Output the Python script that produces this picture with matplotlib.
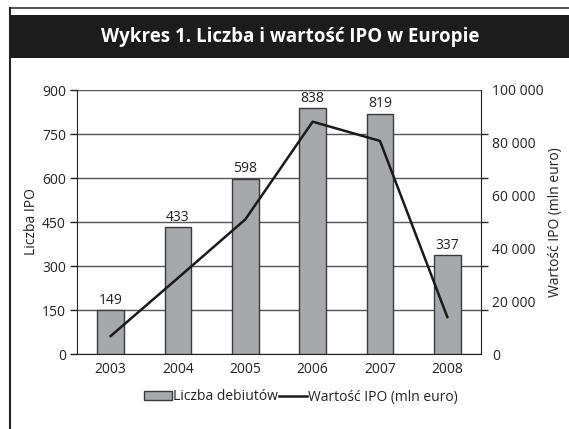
import numpy as np
import matplotlib.pyplot as plt
from matplotlib.patches import Rectangle
from matplotlib.lines import Line2D
from matplotlib.ticker import FuncFormatter

# -----------------------------
# Data
# -----------------------------
years = ["2003", "2004", "2005", "2006", "2007", "2008"]
ipo_count = [149, 433, 598, 838, 819, 337]
ipo_value = [6800, 28800, 51000, 88000, 80700, 14000]   # mln euro

left_ticks = [0, 150, 300, 450, 600, 750, 900]
right_ticks = [0, 20000, 40000, 60000, 80000, 100000]

plt.rcParams['font.family'] = ['Open Sans', 'DejaVu Sans']

fig = plt.figure(figsize=(5.69, 4.29), dpi=100)

# -----------------------------
# Frame + title banner
# -----------------------------
fig.add_artist(Line2D([10/569, 1], [1 - 8/429, 1 - 8/429], color='#333333', lw=1.2))
fig.add_artist(Line2D([10/569, 10/569], [0, 1 - 8/429], color='#222222', lw=1.5))
fig.add_artist(Rectangle((10/569, 1 - 58/429), 1, 43/429, color='#1c1c1c', lw=0))
fig.text(290/569, 1 - 37/429, "Wykres 1. Liczba i wartość IPO w Europie",
         color='white', fontsize=13.5, fontweight='bold', ha='center', va='center')

# -----------------------------
# Bars (left axis)
# -----------------------------
ax = fig.add_axes([77/569, 1 - 354/429, (481 - 77)/569, (354 - 90)/429])
x = np.arange(len(years))
ax.bar(x, ipo_count, width=0.4, color='#a7a8ab', edgecolor='#3a3a3a', lw=1, zorder=3)
for xi, v in zip(x, ipo_count):
    ax.text(xi, v + 8, str(v), ha='center', va='bottom', fontsize=10, color='#222222')

ax.set_xlim(-0.5, len(years) - 0.5)
ax.set_ylim(0, 900)
ax.set_yticks(left_ticks)
ax.set_xticks(x)
ax.set_xticklabels(years)
ax.tick_params(axis='x', length=0, labelsize=10, pad=6, colors='#222222')
ax.tick_params(axis='y', length=5, width=1, labelsize=10, colors='#222222', pad=3)
ax.yaxis.grid(True, color='#555555', lw=1, zorder=0)
ax.set_axisbelow(True)
for s in ['top', 'right']:
    ax.spines[s].set_visible(False)
ax.spines['left'].set_color('#222222')
ax.spines['bottom'].set_color('#222222')
ax.set_ylabel("Liczba IPO", fontsize=10, color='#222222', labelpad=2)

# -----------------------------
# Line (right axis)
# -----------------------------
ax2 = ax.twinx()
ax2.plot(x, ipo_value, color='#1a1a1a', lw=1.8, zorder=4)
ax2.set_ylim(0, 100000)
ax2.set_yticks(right_ticks)
ax2.yaxis.set_major_formatter(FuncFormatter(lambda v, p: f"{int(v):,}".replace(",", " ")))
ax2.set_yticks([100000 * k / 6 for k in range(7)], minor=True)
ax2.tick_params(axis='y', which='major', length=0, labelsize=10, colors='#222222', pad=8)
ax2.tick_params(axis='y', which='minor', length=5, width=1, color='#222222')
for s in ['top', 'left', 'bottom']:
    ax2.spines[s].set_visible(False)
ax2.spines['right'].set_color('#222222')
ax2.set_ylabel("Wartość IPO (mln euro)", fontsize=10, color='#222222', labelpad=3)

# -----------------------------
# Legend
# -----------------------------
handles = [Rectangle((0, 0), 1, 1, facecolor='#a7a8ab', edgecolor='#3a3a3a', lw=1),
           Line2D([0], [0], color='#1a1a1a', lw=1.8)]
fig.legend(handles, ["Liczba debiutów", "Wartość IPO (mln euro)"],
           loc='center', bbox_to_anchor=(301/569, 1 - 397/429), ncol=2,
           frameon=False, fontsize=10, handlelength=2.0, handleheight=0.6,
           handletextpad=0.1, columnspacing=0.1, labelcolor='#222222')

fig.savefig("out.png", dpi=100)
